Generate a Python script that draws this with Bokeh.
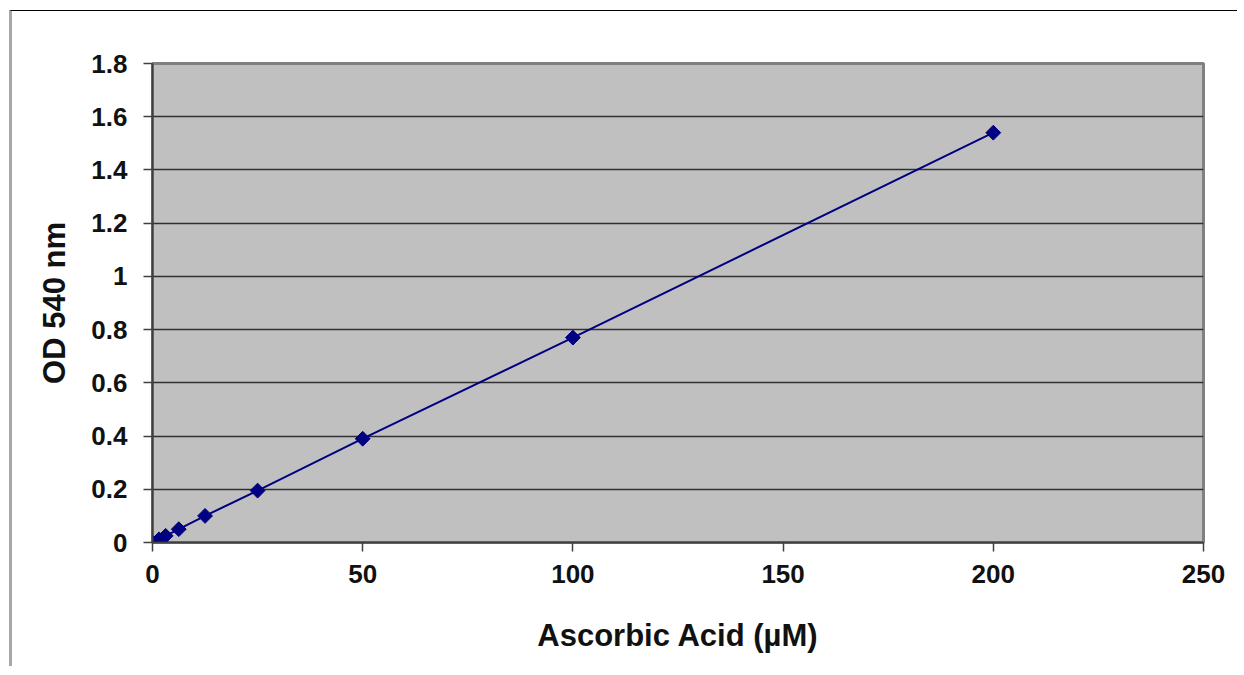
import math
from bokeh.plotting import figure
from bokeh.models import Range1d, FixedTicker, CustomJSTickFormatter
from bokeh.embed import file_html
from bokeh.resources import INLINE

# Data
ascorbic_um = [0, 1.5625, 3.125, 6.25, 12.5, 25, 50, 100, 200]
od_540 = [0.0, 0.012, 0.025, 0.05, 0.10, 0.195, 0.39, 0.77, 1.54]
x_ticks = [0, 50, 100, 150, 200, 250]
y_ticks = [0, 0.2, 0.4, 0.6, 0.8, 1.0, 1.2, 1.4, 1.6, 1.8]

FW, FH = 1051, 479
ML, MT = 140, 52
W, H = 1225, 655

p = figure(width=W, height=H, output_backend="svg", toolbar_location=None,
           x_range=Range1d(0, 250), y_range=Range1d(0, 1.8),
           frame_width=FW, frame_height=FH,
           min_border_left=ML, min_border_top=MT,
           min_border_right=W - ML - FW, min_border_bottom=H - MT - FH)
p.styles = {"border-top": "1px solid #000000", "border-left": "3px solid #a8a8a8",
            "margin-top": "10px", "margin-left": "9px"}

p.border_fill_color = "#ffffff"
p.background_fill_color = "#c0c0c0"
p.outline_line_color = "#808080"
p.outline_line_width = 3

p.xgrid.visible = False
p.ygrid.ticker = FixedTicker(ticks=y_ticks)
p.ygrid.grid_line_color = "#303030"
p.ygrid.grid_line_width = 1.5

p.xaxis.ticker = FixedTicker(ticks=x_ticks)
p.yaxis.ticker = FixedTicker(ticks=y_ticks)
p.yaxis.formatter = CustomJSTickFormatter(code="return String(Number(tick.toFixed(2)));")

for ax in (p.xaxis, p.yaxis):
    ax.axis_line_color = "#404040"
    ax.axis_line_width = 2
    ax.major_tick_line_color = "#404040"
    ax.major_tick_line_width = 1.5
    ax.major_tick_in = 0
    ax.major_tick_out = 9
    ax.minor_tick_line_color = None
    ax.major_label_text_font = "Liberation Sans"
    ax.major_label_text_font_style = "bold"
    ax.major_label_text_font_size = "26px"
    ax.major_label_text_color = "#111111"
    ax.axis_label_text_font = "Liberation Sans"
    ax.axis_label_text_font_style = "bold"
    ax.axis_label_text_font_size = "31px"
    ax.axis_label_text_color = "#111111"

p.xaxis.axis_label = "Ascorbic Acid (µM)"
p.yaxis.axis_label = "OD 540 nm"
p.xaxis.major_label_standoff = 13
p.yaxis.major_label_standoff = 16
p.xaxis.axis_label_standoff = 32
p.yaxis.axis_label_standoff = 16

p.line(ascorbic_um, od_540, line_color="#000080", line_width=2)
p.scatter(ascorbic_um, od_540, marker="square", size=10.5, angle=math.pi / 4,
          fill_color="#000080", line_color="#000080")

open("out.html", "w").write(file_html(p, INLINE))
